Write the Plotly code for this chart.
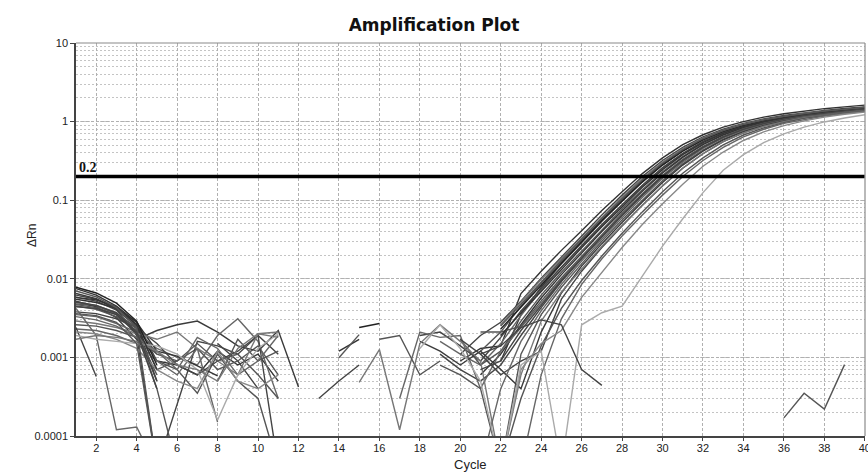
import math
import plotly.graph_objects as go

# ---------------- data ----------------
cycles = list(range(1, 41))
x_tick_vals = list(range(2, 41, 2))
y_tick_vals = [0.0001, 0.001, 0.01, 0.1, 1, 10]
y_tick_text = ["0.0001", "0.001", "0.01", "0.1", "1", "10"]
THRESHOLD = 0.2

# ΔRn per well, cycles 1..40 (None = not shown / non-positive)
wA = [0.0075, 0.0062, 0.0045, 0.0028, 0.0009,
      0.0008, 0.0006, 0.0012, 0.0008, 0.0011, 0.0005,
      None, None, None, None, None, None, None, None, 0.0009, 0.0013,
      0.0014, 0.0065, 0.0125, 0.023, 0.041, 0.074, 0.128, 0.218, 0.345, 0.51, 0.68, 0.85, 1.0, 1.14, 1.26, 1.37, 1.46, 1.54, 1.62]
wB = [0.0058, 0.0052, 0.004, 0.0025, 0.0011,
      None, None, 0.0015, 0.0009, 0.0004, None,
      None, None, None, None, None, None, None, None, 0.0011, 0.0019,
      0.0028, 0.0052, 0.0102, 0.019, 0.035, 0.065, 0.116, 0.2, 0.32, 0.47, 0.64, 0.8, 0.95, 1.08, 1.2, 1.3, 1.39, 1.47, 1.54]
wC = [0.0048, 0.0045, 0.0036, 0.0024, 0.0007,
      0.0009, 0.0013, 0.0007, 0.0009, 0.0014, 0.0006,
      None, None, None, None, None, None, None, None, None, 0.0012,
      0.0021, 0.0045, 0.0088, 0.0165, 0.031, 0.057, 0.102, 0.178, 0.29, 0.435, 0.6, 0.76, 0.91, 1.04, 1.16, 1.26, 1.35, 1.43, 1.5]
wD = [0.0052, 0.0044, 0.0032, 0.0017, 0.0022,
      0.0026, 0.0029, 0.0021, 0.0014, 0.0012, 0.0022,
      0.00042, None, None, None, None, None, None, None, None, None,
      0.0009, 0.0035, 0.0078, 0.0155, 0.029, 0.054, 0.097, 0.17, 0.28, 0.42, 0.585, 0.745, 0.895, 1.03, 1.15, 1.25, 1.34, 1.42, 1.49]
wE = [0.0035, 0.0033, 0.0027, 0.0021, 0.0013,
      0.001, 0.0008, 0.0019, 0.0031, 0.0016, 0.0003,
      None, None, None, None, None, None, None, 0.0016, 0.0011, 0.0008,
      0.0015, 0.0034, 0.0072, 0.014, 0.026, 0.048, 0.087, 0.152, 0.255, 0.39, 0.555, 0.72, 0.875, 1.01, 1.13, 1.23, 1.32, 1.4, 1.47]
wF = [0.0062, 0.0055, 0.0041, 0.0019, 0.00004,
      0.00025, 0.0016, 0.0014, 0.0011, 0.0019, 0.00004,
      None, None, None, None, None, None, 0.0019, 0.0021, 0.0014, 0.0009,
      0.0018, 0.0039, 0.0075, 0.0142, 0.0265, 0.049, 0.088, 0.155, 0.26, 0.395, 0.56, 0.725, 0.88, 1.02, 1.14, 1.24, 1.33, 1.41, 1.48]
wG = [0.0045, 0.0041, 0.0033, 0.0022, 0.0009,
      0.0007, 0.00035, 0.0011, 0.0005, 0.0003, 0.00004,
      None, None, None, None, None, None, None, None, 0.0017, 0.0008,
      0.0012, 0.0029, 0.0062, 0.0121, 0.0225, 0.042, 0.077, 0.136, 0.23, 0.36, 0.52, 0.685, 0.845, 0.985, 1.11, 1.21, 1.3, 1.38, 1.45]
wH = [0.0055, 0.005, 0.0042, 0.0028, 0.0012,
      0.00104, 0.00078, 0.00058, None, None, None,
      None, None, None, None, None, None, None, None, None, 0.0006,
      0.0011, 0.0026, 0.0057, 0.0113, 0.0213, 0.04, 0.073, 0.13, 0.222, 0.35, 0.51, 0.675, 0.835, 0.975, 1.1, 1.2, 1.29, 1.37, 1.44]
wI = [0.0038, 0.0036, 0.0031, 0.0024, 0.0015,
      0.0008, 0.0006, 0.0009, 0.0012, 0.0019, 0.0011,
      None, None, None, None, None, None, None, 0.0011, 0.0007, 0.0005,
      0.0008, 0.0019, 0.0043, 0.0092, 0.018, 0.034, 0.064, 0.115, 0.2, 0.32, 0.47, 0.64, 0.8, 0.95, 1.08, 1.19, 1.29, 1.37, 1.44]
wJ = [0.0023, 0.0022, 0.0019, 0.0015, 0.0009,
      0.0006, 0.0013, 0.00015, None, None, None,
      None, None, None, None, None, 0.0003, 0.0021, 0.0018, 0.0019, 0.0004,
      0.0012, 0.0024, 0.0048, 0.0098, 0.0185, 0.035, 0.065, 0.116, 0.2, 0.32, 0.47, 0.635, 0.79, 0.94, 1.07, 1.18, 1.27, 1.35, 1.42]
wK = [0.005, 0.0046, 0.0037, 0.0023, 0.0004,
      0.00004, None, 0.0005, 0.0017, 0.0009, 0.0012,
      None, None, None, None, 0.0017, 0.0019, 0.0006, 0.0009, None, None,
      0.00004, 0.0011, 0.0035, 0.0078, 0.0155, 0.03, 0.056, 0.101, 0.177, 0.29, 0.435, 0.6, 0.76, 0.91, 1.04, 1.16, 1.26, 1.34, 1.42]
wL = [0.0065, 0.0056, 0.0042, 0.0026, 0.0005,
      None, None, None, None, None, None,
      None, None, None, None, None, None, 0.0016, 0.0012, 0.0008, 0.0012,
      0.0007, 0.0004, 0.0021, 0.0066, 0.0145, 0.028, 0.052, 0.095, 0.168, 0.28, 0.42, 0.585, 0.745, 0.895, 1.03, 1.15, 1.25, 1.33, 1.41]
wM = [0.0024, 0.00057, None, None, None,
      None, None, None, None, None, None,
      None, None, None, None, None, None, None, None, 0.0017, 0.0011,
      0.0006, 0.0009, 0.0012, 0.0055, 0.0125, 0.025, 0.047, 0.086, 0.152, 0.255, 0.39, 0.555, 0.72, 0.875, 1.01, 1.13, 1.23, 1.31, 1.39]
wN = [0.0029, 0.0027, 0.0024, 0.002, 0.0017,
      0.0021, 0.0013, 0.0009, 0.0006, 0.002, 0.0021,
      None, None, None, 0.00048, 0.00126, 0.00012, 0.0015, 0.0026, 0.0016, 0.0009,
      0.00004, 0.0006, 0.0029, 0.0068, 0.0135, 0.026, 0.048, 0.087, 0.153, 0.257, 0.392, 0.556, 0.72, 0.87, 1.0, 1.12, 1.22, 1.3, 1.38]
wO = [0.0078, 0.0066, 0.0049, 0.0029, 0.0008,
      None, None, None, None, None, None,
      None, None, None, 0.0024, 0.0027, None, None, None, None, None,
      0.0023, 0.0043, 0.0083, 0.0158, 0.0295, 0.055, 0.098, 0.172, 0.282, 0.425, 0.59, 0.75, 0.9, 1.04, 1.16, 1.27, 1.36, 1.44, 1.51]
wP = [0.0026, 0.0025, 0.0022, 0.0018, 0.0011,
      0.0009, 0.0015, 0.0009, 0.0011, 0.0006, 0.0003,
      None, None, None, None, None, None, None, None, None, 0.0021,
      0.0021, 0.0025, 0.0052, 0.0103, 0.0195, 0.037, 0.068, 0.121, 0.208, 0.33, 0.485, 0.65, 0.81, 0.955, 1.08, 1.19, 1.28, 1.36, 1.43]
wQ = [0.0042, 0.0019, 0.00012, 0.00013, 0.00004,
      None, None, None, None, None, None,
      None, None, None, None, None, None, None, None, None, 0.00004,
      0.0004, 0.0016, 0.0039, 0.0085, 0.0168, 0.032, 0.06, 0.108, 0.19, 0.305, 0.455, 0.62, 0.78, 0.93, 1.06, 1.17, 1.27, 1.35, 1.42]
wR = [0.0047, 0.0043, 0.0035, 0.0021, 0.0006,
      None, None, None, None, None, None,
      None, None, None, None, None, None, None, 0.0008, 0.0006, 0.0004,
      0.00004, 0.0003, 0.0014, 0.0042, 0.0095, 0.0195, 0.038, 0.071, 0.128, 0.22, 0.345, 0.505, 0.675, 0.83, 0.97, 1.1, 1.2, 1.29, 1.37]
wS = [0.0033, 0.003, 0.0025, 0.0018, 0.0012,
      0.0007, 0.0018, 0.0013, 0.0006, 0.0009, 0.0019,
      None, None, None, None, None, None, None, None, None, None,
      0.00004, 0.00004, 0.0006, 0.0031, 0.0085, 0.018, 0.035, 0.065, 0.116, 0.2, 0.32, 0.47, 0.64, 0.8, 0.95, 1.07, 1.18, 1.27, 1.35]
wT = [0.0021, 0.002, 0.0017, 0.0013, 0.0007,
      0.0005, 0.0004, 0.0012, 0.0005, 0.0004, 0.0006,
      None, None, None, None, None, None, None, None, None, None,
      0.00004, 0.0007, 0.0015, 0.0022, 0.0058, 0.012, 0.025, 0.049, 0.09, 0.16, 0.27, 0.41, 0.575, 0.74, 0.89, 1.02, 1.14, 1.24, 1.32]
wU = [0.0019, 0.0017, 0.0016, 0.0015, 0.0014,
      0.0011, 0.0007, 0.00016, 0.0006, 0.0013, 0.002,
      None, None, None, None, None, None, 0.0013, 0.0026, 0.0013, 0.0005,
      0.00004, 0.0008, 0.0012, 0.00004, 0.0026, 0.0037, 0.0045, 0.011, 0.026, 0.058, 0.125, 0.24, 0.38, 0.54, 0.7, 0.85, 0.99, 1.11, 1.22]
wV = [0.0017, 0.0019, 0.0018, 0.0016, 0.0012,
      0.0008, 0.0007, 0.0005, 0.0013, 0.002, 0.0018,
      None, None, None, None, None, None, None, None, None, None,
      0.0026, 0.0051, 0.0098, 0.018, 0.033, 0.061, 0.109, 0.19, 0.305, 0.455, 0.62, 0.78, 0.93, 1.06, 1.17, 1.27, 1.36, 1.43, 1.5]
wW = [0.0058, 0.0054, 0.0044, 0.0026, 0.0007,
      None, None, None, None, None, None,
      None, None, 0.0012, 0.0017, None, None, None, None, None, None,
      0.0019, 0.0037, 0.0069, 0.0132, 0.0248, 0.046, 0.083, 0.146, 0.245, 0.38, 0.54, 0.71, 0.865, 1.0, 1.12, 1.23, 1.32, 1.4, 1.47]
wX = [0.0044, 0.0042, 0.0035, 0.002, 0.0004,
      None, None, None, None, None, None,
      None, None, None, None, None, None, None, None, None, 0.0007,
      0.0009, 0.0022, 0.0046, 0.0095, 0.0182, 0.0345, 0.0645, 0.116, 0.2, 0.32, 0.47, 0.635, 0.795, 0.945, 1.075, 1.19, 1.29, 1.37, 1.45]
wY = [0.007, 0.0059, 0.0043, 0.0024, 0.00004,
      None, None, None, None, None, None,
      None, None, None, None, None, None, None, None, None, None,
      0.0025, 0.0048, 0.0092, 0.0172, 0.032, 0.059, 0.105, 0.182, 0.295, 0.44, 0.605, 0.77, 0.92, 1.05, 1.17, 1.27, 1.36, 1.44, 1.52]
ntc1 = [0.0051, 0.0046, 0.0037, 0.0021, 0.0005,
        None, None, None, None, None, None,
        None, 0.0003, 0.0005, 0.0008, None, None, None, None, None, 0.0011,
        0.0014, 0.0024, 0.003, 0.0026, 0.0007, 0.00044, None, None, None, None, None, None, None, None, None, None, None, None, None]
ntc2 = [0.0036, 0.0034, 0.0028, 0.0015, 0.00004,
        None, None, None, None, None, None,
        None, None, 0.00099, 0.00195, None, None, None, None, None, None,
        None, None, None, None, None, None, None, None, None, None, None, None, None, None, 0.00017, 0.00035, 0.00022, 0.00081, None]

wells = [wA, wB, wC, wD, wE, wF, wG, wH, wI, wJ, wK, wL, wM, wN,
         wO, wP, wQ, wR, wS, wT, wU, wV, wW, wX, wY, ntc1, ntc2]
well_colors = ["#333333", "#444444", "#555555", "#3a3a3a", "#666666", "#444444",
               "#555555", "#333333", "#444444", "#666666", "#555555", "#3a3a3a",
               "#444444", "#777777", "#222222", "#555555", "#666666", "#555555",
               "#666666", "#888888", "#aaaaaa", "#777777", "#333333", "#444444",
               "#555555", "#444444", "#555555"]

# ---------------- figure ----------------
fig = go.Figure()
for vals, col in zip(wells, well_colors):
    fig.add_trace(go.Scatter(x=cycles, y=vals, mode="lines",
                             line=dict(color=col, width=1.4),
                             connectgaps=False, showlegend=False,
                             hoverinfo="skip"))

fig.add_trace(go.Scatter(x=[cycles[0], cycles[-1]], y=[THRESHOLD, THRESHOLD],
                         mode="lines", line=dict(color="#000000", width=3.5),
                         showlegend=False, hoverinfo="skip"))

grid_col = "#b0b0b0"
fig.update_layout(
    width=868, height=473,
    margin=dict(l=76, r=3, t=43, b=37, autoexpand=False),
    paper_bgcolor="white", plot_bgcolor="white",
    font=dict(family="Liberation Sans, Arial, sans-serif", size=11, color="#222"),
    title=dict(text="<b>Amplification Plot</b>", x=0.5, xanchor="center",
               y=0.947, yanchor="middle",
               font=dict(family="DejaVu Sans, Verdana, sans-serif", size=17, color="#111")),
    xaxis=dict(range=[1, 40.01], tickmode="array", tickvals=x_tick_vals,
               automargin=False,
               showgrid=True, gridcolor=grid_col, griddash="3px,2px", gridwidth=1,
               zeroline=False, showline=True, linecolor="#444", linewidth=1.5,
               ticks="outside", ticklen=3, tickcolor="#444",
               ticklabelstandoff=-2, ticklabeloverflow="allow",
               tickfont=dict(size=11, color="#222")),
    yaxis=dict(type="log", range=[-4, 1], tickmode="array",
               tickvals=y_tick_vals, ticktext=y_tick_text, automargin=False,
               showgrid=True, gridcolor=grid_col, griddash="3px,2px", gridwidth=1,
               minor=dict(dtick="D1", showgrid=True, gridcolor="#c4c4c4",
                          griddash="2px,2px", gridwidth=1, ticks=""),
               zeroline=False, showline=True, linecolor="#444", linewidth=1.5,
               ticks="outside", ticklen=4, tickcolor="#444",
               tickfont=dict(size=11, color="#222")),
)

# lighter frame on top / right
fig.add_shape(type="line", xref="paper", yref="paper", x0=0, x1=1, y0=1, y1=1,
              line=dict(color="#8a8a8a", width=1.2))
fig.add_shape(type="line", xref="paper", yref="paper", x0=1, x1=1, y0=0, y1=1,
              line=dict(color="#8a8a8a", width=1.2))

fig.add_annotation(x=cycles[0], y=math.log10(THRESHOLD), xref="x", yref="y",
                   text="<b>0.2</b>", showarrow=False, xanchor="left", yanchor="bottom",
                   xshift=1, yshift=0,
                   font=dict(family="Liberation Serif, Times New Roman, serif", size=14, color="#111"))
fig.add_annotation(x=-0.068, y=0.51, xref="paper", yref="paper", text="ΔRn",
                   showarrow=False, textangle=-90,
                   font=dict(family="Liberation Sans, Arial, sans-serif", size=12, color="#222"))
fig.add_annotation(x=0.5, y=-0.072, xref="paper", yref="paper", text="Cycle",
                   showarrow=False, yanchor="middle",
                   font=dict(family="Liberation Sans, Arial, sans-serif", size=13, color="#222"))

fig.write_html("out.html", config={"displayModeBar": False},
               post_script="document.body.style.margin='0';document.body.style.padding='0';")
